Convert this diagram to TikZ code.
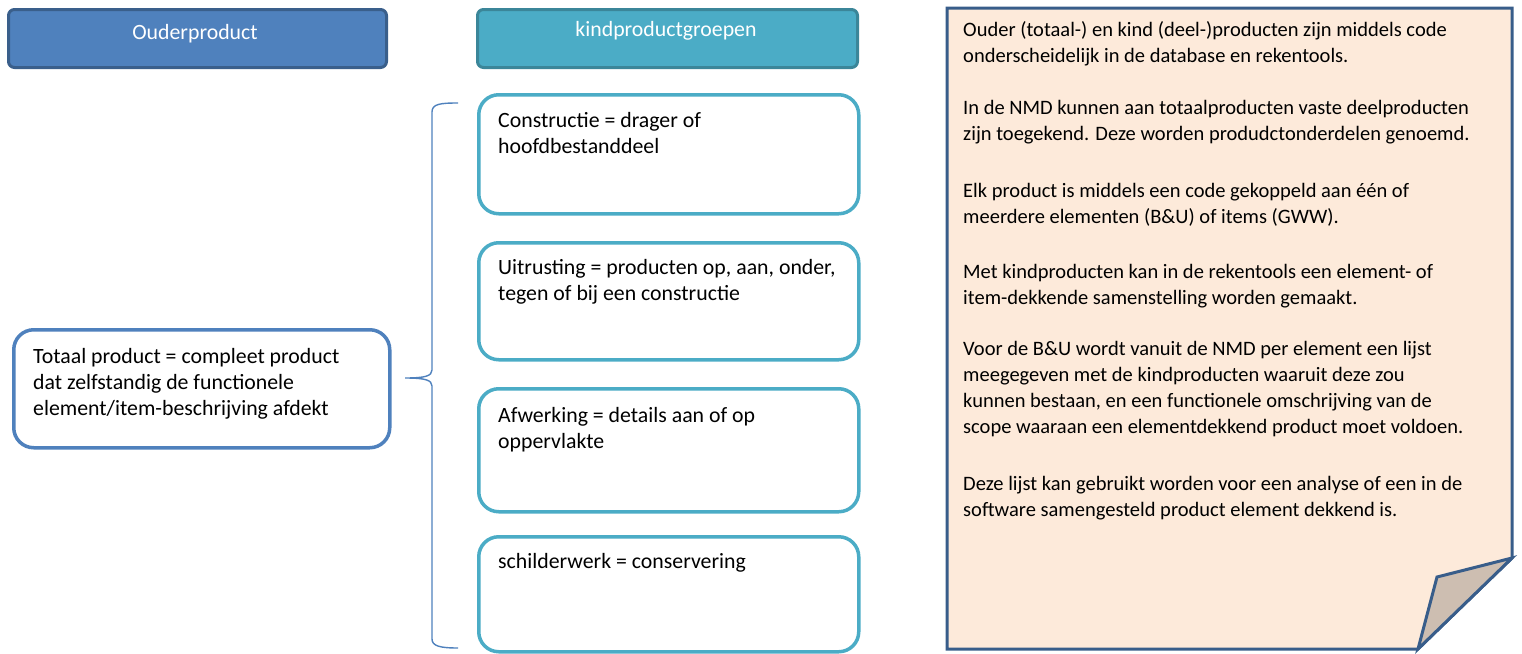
\documentclass[tikz,border=0pt]{standalone}
\usepackage{fontspec}
\setmainfont{Carlito}
\definecolor{blueF}{HTML}{4F81BD}
\definecolor{blueD}{HTML}{3A5F8B}
\definecolor{aquaF}{HTML}{4BACC6}
\definecolor{aquaD}{HTML}{3B8699}
\definecolor{noteF}{HTML}{FDEADA}
\definecolor{noteD}{HTML}{385D8A}
\definecolor{flapF}{HTML}{CDBEB1}
\newcommand{\bodyfont}{\fontsize{21.8}{26}\selectfont}
\newcommand{\notefont}{\fontsize{20.5}{26}\selectfont}
\tikzset{
  header/.style={draw, line width=3pt, rounded corners=6pt, anchor=north west, inner sep=0pt},
  childbox/.style={draw=aquaF, line width=3.5pt, rounded corners=20pt, anchor=north west, inner sep=0pt, fill=white},
  parentbox/.style={draw=blueF, line width=3.5pt, rounded corners=20pt, anchor=north west, inner sep=0pt, fill=white},
  txt/.style={anchor=north west, inner sep=0pt, align=left, font=\bodyfont, yshift=18.2pt},
  notetxt/.style={txt, font=\notefont},
  headtxt/.style={anchor=base, inner sep=0pt, text=white, font=\bodyfont},
  brace/.style={draw=blueF, line width=1.4pt}
}
\begin{document}
\begin{tikzpicture}[x=1pt,y=-1pt]
\useasboundingbox (0,0) rectangle (1522,653);
% headers
\node[header, draw=blueD, fill=blueF, minimum width=378pt, minimum height=58pt] (hparent) at (7,8) {};
\node[headtxt] (hparentt) at (195,39) {Ouderproduct};
\node[header, draw=aquaD, fill=aquaF, minimum width=380pt, minimum height=58pt] (hchild) at (476,8) {};
\node[headtxt] (hchildt) at (666,36) {kindproductgroepen};
% parent
\node[parentbox, minimum width=376pt, minimum height=118pt] (totaal) at (12,328) {};
\node[txt] (totaalt) at (33,363) {\strut Totaal product = compleet product\\dat zelfstandig de functionele\\element/item-beschrijving afdekt};
% children
\node[childbox, minimum width=380pt, minimum height=119pt] (c1) at (477,93) {};
\node[txt] (c1t) at (498,127) {\strut Constructie = drager of\\hoofdbestanddeel};
\node[childbox, minimum width=380pt, minimum height=117pt] (c2) at (477,241) {};
\node[txt] (c2t) at (498,274) {\strut Uitrusting = producten op, aan, onder,\\tegen of bij een constructie};
\node[childbox, minimum width=380pt, minimum height=123pt] (c3) at (477,387) {};
\node[txt] (c3t) at (498,422) {\strut Afwerking = details aan of op\\oppervlakte};
\node[childbox, minimum width=380pt, minimum height=115pt] (c4) at (477,535) {};
\node[txt] (c4t) at (498,568) {\strut schilderwerk = conservering};
% brace
\coordinate (btop) at (458,103);
\coordinate (btip) at (405,378);
\coordinate (bbot) at (458,648);
\draw[brace] (btop) .. controls (440,103) and (432,104) .. (432,112)
  -- (432,370) .. controls (432,376) and (425,378) .. (btip)
  .. controls (425,378) and (432,380) .. (432,386)
  -- (432,639) .. controls (432,646) and (440,648) .. (bbot);
% note
\draw[draw=noteD, fill=noteF, line width=3pt, line join=miter]
  (947,8) -- (1512,8) -- (1512,558) -- (1418,649) -- (947,649) -- cycle;
\draw[draw=noteD, fill=flapF, line width=3pt, line join=miter]
  (1512,558) -- (1437,577) -- (1418,649) -- cycle;
\node[notetxt] (notet) at (963,36) {\strut Ouder (totaal-) en kind (deel-)producten zijn middels code\\
onderscheidelijk in de database en rekentools.\\[26pt]
In de NMD kunnen aan totaalproducten vaste deelproducten\\
zijn toegekend. Deze worden produdctonderdelen genoemd.\\[31pt]
Elk product is middels een code gekoppeld aan één of\\
meerdere elementen (B\&U) of items (GWW).\\[29pt]
Met kindproducten kan in de rekentools een element- of\\
item-dekkende samenstelling worden gemaakt.\\[25pt]
Voor de B\&U wordt vanuit de NMD per element een lijst\\
meegegeven met de kindproducten waaruit deze zou\\
kunnen bestaan, en een functionele omschrijving van de\\
scope waaraan een elementdekkend product moet voldoen.\\[31pt]
Deze lijst kan gebruikt worden voor een analyse of een in de\\
software samengesteld product element dekkend is.};
\end{tikzpicture}
\end{document}
